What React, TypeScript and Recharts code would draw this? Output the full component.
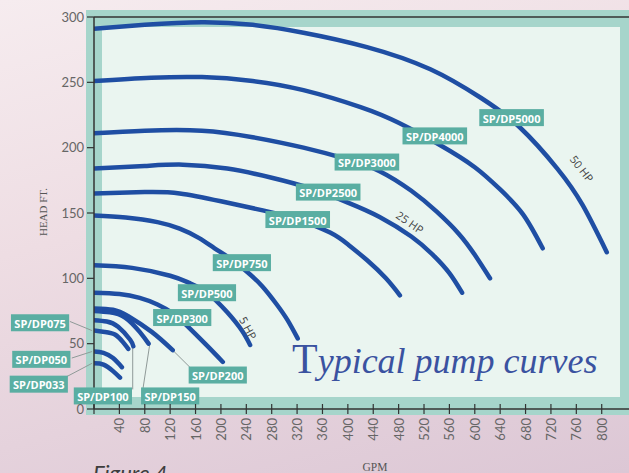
import React from 'react';
import { LineChart, Line, XAxis, YAxis, ReferenceDot, ReferenceLine } from 'recharts';

// Pump curves: [GPM, HEAD FT.]
const sp5000 = [[0, 291], [80, 294], [170, 296], [250, 294], [330, 288], [430, 277], [530, 260], [610, 238], [670, 216], [730, 184], [770, 156], [808, 120]];
const sp4000 = [[0, 251], [90, 253.5], [170, 254], [250, 251], [330, 244], [420, 231], [480, 219], [545, 202], [600, 185], [640, 168], [676, 149], [707, 123]];
const sp3000 = [[0, 211], [80, 213], [170, 213], [250, 208], [330, 200], [400, 191], [450, 182], [500, 167], [540, 151], [575, 134], [600, 118], [624, 100]];
const sp2500 = [[0, 184], [80, 186], [140, 187], [210, 184], [280, 177], [340, 169], [400, 158], [450, 147], [500, 132], [534, 118], [560, 104], [580, 89]];
const sp1500 = [[0, 165], [80, 166], [135, 165], [200, 159], [266, 152], [321, 145], [372, 135], [400, 126], [430, 114], [460, 100], [482, 87]];
const sp750 = [[0, 148], [50, 146.5], [100, 143], [135, 138], [165, 131], [190, 123], [215, 115], [241, 105], [265, 94], [288, 80], [305, 68], [321, 54]];
const sp500 = [[0, 110], [60, 108], [120, 102], [150, 96.5], [178, 89], [210, 74], [233, 60], [246, 49]];
const sp300 = [[0, 89], [40, 88], [72, 85], [100, 80], [125, 73], [146, 64], [175, 50], [203, 36]];
const sp200 = [[0, 77], [30, 76], [54, 71], [91, 59], [124, 45]];
const sp150 = [[0, 75], [25, 74], [49, 70], [72, 59], [86, 50]];
const sp100 = [[0, 68], [20, 67], [38, 63], [57, 53], [62, 48]];
const sp075 = [[0, 60], [17, 59], [33, 57], [46, 51], [54, 46]];
const sp050 = [[0, 44], [15, 43], [30, 39], [44, 32]];
const sp033 = [[0, 35], [15, 34], [30, 29], [41, 24]];

const curves = [sp5000, sp4000, sp3000, sp2500, sp1500, sp750, sp500, sp300, sp200, sp150, sp100, sp075, sp050, sp033];

const gpmTicks = [0, 40, 80, 120, 160, 200, 240, 280, 320, 360, 400, 440, 480, 520, 560, 600, 640, 680, 720, 760, 800];
const headTicks = [0, 50, 100, 150, 200, 250, 300];

// Model name tags: [name, GPM, HEAD]
const modelTags: [string, number, number][] = [
  ['SP/DP5000', 658, 223],
  ['SP/DP4000', 537, 209],
  ['SP/DP3000', 430, 189],
  ['SP/DP2500', 369, 166],
  ['SP/DP1500', 321, 145],
  ['SP/DP750', 233, 112],
  ['SP/DP500', 178, 89],
  ['SP/DP300', 139, 70],
  ['SP/DP200', 195, 26],
  ['SP/DP150', 120, 10],
  ['SP/DP100', 14, 10],
  ['SP/DP075', -85, 66],
  ['SP/DP050', -83, 38],
  ['SP/DP033', -87, 19],
];

// Leader lines: [fromGPM, fromHEAD, toGPM, toHEAD]
const leaders = [
  [-38, 67, -3, 60],
  [-35, 39, -3, 44],
  [-46, 24, -3, 35],
  [61, 15, 61, 47],
  [77, 15, 88, 50],
  [151, 32, 124, 45],
];

// Horsepower notes: [text, GPM, HEAD, angle]
const hpNotes: [string, number, number, number][] = [
  ['50 HP', 769, 184, 52],
  ['25 HP', 498, 143, 35],
  ['5 HP', 243, 62, 62],
];

const toPts = (a: number[][]) => a.map(([gpm, head]) => ({ gpm, head }));

const BLUE = '#1f4ea3';
const TAG = '#5aaea2';

const XTick = (props: any) => {
  const { x, y, payload } = props;
  const ty = y + 9;
  return (
    <g>
      <line x1={x} x2={x} y1={y - 5} y2={y + 5} stroke="#333" strokeWidth={1.2} />
      {payload.value !== 0 && (
        <text
          x={x}
          y={ty}
          transform={`rotate(-90 ${x} ${ty})`}
          textAnchor="end"
          dominantBaseline="central"
          fontSize={13}
          fontFamily="Lato"
          fill="#666"
        >
          {payload.value}
        </text>
      )}
    </g>
  );
};

const makeTag = (text: string) => (p: any) => {
  const { cx, cy } = p;
  const w = text.length * 6.4 + 7;
  const h = 17;
  return (
    <g>
      <rect x={cx - w / 2} y={cy - h / 2} width={w} height={h} fill={TAG} />
      <text
        x={cx}
        y={cy + 0.5}
        textAnchor="middle"
        dominantBaseline="central"
        fill="#ffffff"
        fontSize={11}
        fontWeight={700}
        fontFamily="'Open Sans'"
      >
        {text}
      </text>
    </g>
  );
};

const makeHp = (text: string, angle: number) => (p: any) => {
  const { cx, cy } = p;
  return (
    <text
      x={cx}
      y={cy}
      transform={`rotate(${angle} ${cx} ${cy})`}
      textAnchor="middle"
      dominantBaseline="central"
      fontSize={11}
      fontFamily="'Open Sans'"
      fill="#444"
    >
      {text}
    </text>
  );
};

export default function App() {
  return (
    <div
      style={{
        position: 'absolute',
        left: 0,
        top: 0,
        width: 629,
        height: 473,
        overflow: 'hidden',
        background: 'linear-gradient(165deg, #f6ecef 0%, #eedde3 40%, #dcc7d5 100%)',
      }}
    >
      <div style={{ position: 'absolute', left: 86, top: 10, width: 543, height: 405, background: '#a6d5cb' }} />
      <div style={{ position: 'absolute', left: 102, top: 27, width: 518, height: 370, background: '#eaf5f0' }} />
      <div style={{ position: 'absolute', left: 0, top: 0 }}>
        <LineChart width={629} height={473} margin={{ top: 17, right: 0, bottom: 24, left: 34 }}>
          <XAxis
            dataKey="gpm"
            type="number"
            domain={[0, 843]}
            ticks={gpmTicks}
            interval={0}
            allowDataOverflow
            height={40}
            tickSize={0}
            tickMargin={0}
            tickLine={false}
            axisLine={{ stroke: '#333', strokeWidth: 1.5 }}
            tick={<XTick />}
          />
          <YAxis
            dataKey="head"
            type="number"
            domain={[0, 300]}
            ticks={headTicks}
            interval={0}
            width={60}
            tickSize={7}
            tickMargin={3}
            tickLine={{ stroke: '#333', strokeWidth: 1.2 }}
            axisLine={{ stroke: '#333', strokeWidth: 1.5 }}
            tick={{ fill: '#666', fontSize: 13, fontFamily: 'Lato' }}
          />
          <ReferenceLine y={300} stroke="#333" strokeWidth={1.5} />
          {leaders.map((l, i) => (
            <ReferenceLine
              key={'ld' + i}
              segment={[{ x: l[0], y: l[1] }, { x: l[2], y: l[3] }]}
              stroke="#8f9a98"
              strokeWidth={1}
              ifOverflow="visible"
            />
          ))}
          {curves.map((c, i) => (
            <Line
              key={'c' + i}
              data={toPts(c)}
              dataKey="head"
              type="natural"
              stroke={BLUE}
              strokeWidth={4.5}
              strokeLinecap="round"
              dot={false}
              activeDot={false}
              isAnimationActive={false}
            />
          ))}
          {modelTags.map(([name, g, h]) => (
            <ReferenceDot key={name} x={g} y={h} r={1} ifOverflow="visible" shape={makeTag(name)} />
          ))}
          {hpNotes.map(([t, g, h, a]) => (
            <ReferenceDot key={t} x={g} y={h} r={1} ifOverflow="visible" shape={makeHp(t, a)} />
          ))}
        </LineChart>
      </div>
      <svg width={629} height={473} style={{ position: 'absolute', left: 0, top: 0, pointerEvents: 'none' }}>
        <text x={292} y={373} fill="#3a52a0" fontFamily="'Liberation Serif'">
          <tspan fontSize={42}>T</tspan>
          <tspan fontSize={36} fontStyle="italic">ypical pump curves</tspan>
        </text>
        <text x={43} y={212} transform="rotate(-90 43 212)" textAnchor="middle" dominantBaseline="central" fontSize={11} fill="#555" fontFamily="'Liberation Serif'">
          HEAD FT.
        </text>
        <text x={375} y={471} textAnchor="middle" fontSize={11.5} fill="#555" fontFamily="'Liberation Serif'">
          GPM
        </text>
        <text x={93} y={481} fontSize={22} fill="#3d3d3d" fontStyle="italic" fontFamily="Lato">
          Figure 4
        </text>
      </svg>
    </div>
  );
}
